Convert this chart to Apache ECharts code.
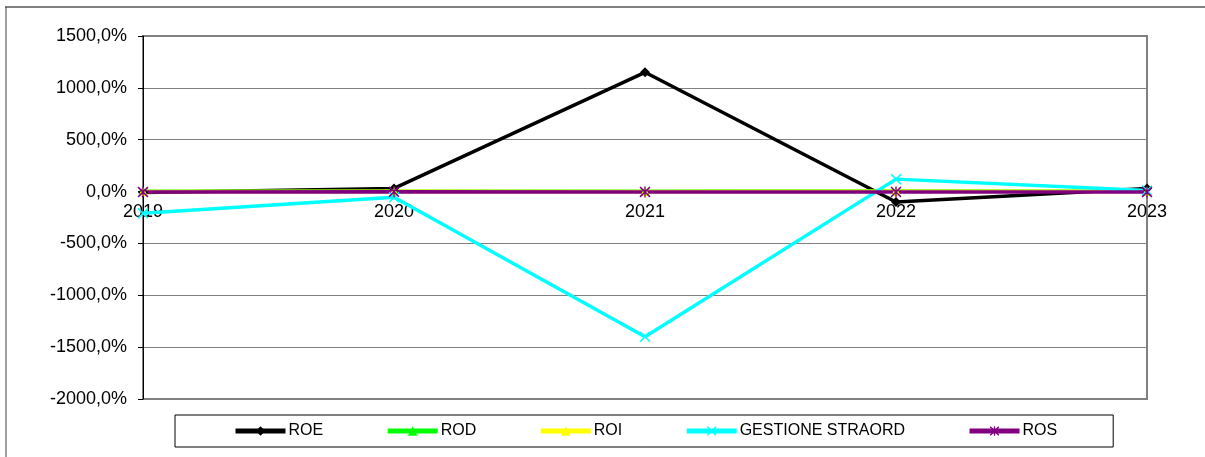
<!DOCTYPE html>
<html>
<head>
<meta charset="utf-8">
<script src="https://cdn.jsdelivr.net/npm/echarts@6/dist/echarts.min.js"></script>
<style>html,body{margin:0;padding:0;background:#fff;}#c{width:1205px;height:457px;}</style>
</head>
<body>
<div id="c"></div>
<script>
const years = ['2019', '2020', '2021', '2022', '2023'];
const roe = [-10, 30, 1150, -100, 30];
const rod = [2, 3, 2, 5, 3];
const roi = [1, 2, 1, 3, 2];
const gestioneStraord = [-210, -55, -1400, 120, 10];
const ros = [-5, -2, -3, -4, -5];
const yTicks = { min: -2000, max: 1500, interval: 500 };

const FONT = 'Liberation Sans, Arial, sans-serif';
const xSym = 'path://M0,1L1,0L5,4L9,0L10,1L6,5L10,9L9,10L5,6L1,10L0,9L4,5Z';
const astSym = 'path://M0,1L1,0L5,4L9,0L10,1L6,5L10,9L9,10L5,6L1,10L0,9L4,5ZM4.4,0L5.6,0L5.6,10L4.4,10Z';

const GRID_TOP = 36, GRID_BOTTOM = 58, H = 457;
const plotH = H - GRID_TOP - GRID_BOTTOM;
const zeroOffset = -plotH * (0 - yTicks.min) / (yTicks.max - yTicks.min);

function mk(name, data, color, symbol, size) {
  return {
    name, type: 'line', data,
    symbol, symbolSize: size,
    lineStyle: { color, width: 3.5 },
    itemStyle: { color },
    emphasis: { disabled: true },
    animation: false
  };
}

const chart = echarts.init(document.getElementById('c'), null, { renderer: 'canvas' });
chart.setOption({
  animation: false,
  textStyle: { fontFamily: FONT },
  graphic: [
    { type: 'line', shape: { x1: 5, y1: 7, x2: 1205, y2: 7 }, style: { stroke: '#808080', lineWidth: 2 } },
    { type: 'line', shape: { x1: 6, y1: 7, x2: 6, y2: 457 }, style: { stroke: '#404040', lineWidth: 1 } }
  ],
  grid: {
    left: 143, right: 58, top: GRID_TOP, bottom: GRID_BOTTOM,
    show: true, borderColor: '#808080', borderWidth: 2, backgroundColor: 'transparent'
  },
  legend: {
    left: 175, top: 415,
    padding: [8, 56, 8, 58],
    borderColor: '#000', borderWidth: 1,
    itemWidth: 50, itemHeight: 12, itemGap: 62,
    lineStyle: { width: 5 },
    textStyle: { fontFamily: FONT, fontSize: 16, color: '#000', padding: [0, 0, 0, -2] },
    data: ['ROE', 'ROD', 'ROI', 'GESTIONE STRAORD', 'ROS']
  },
  xAxis: {
    type: 'category', data: years, boundaryGap: false,
    position: 'bottom', offset: zeroOffset,
    axisLine: { show: false, onZero: false },
    axisTick: { show: false },
    axisLabel: { color: '#000', fontSize: 18, fontFamily: FONT, margin: 11 },
    splitLine: { show: false }
  },
  yAxis: {
    type: 'value', min: yTicks.min, max: yTicks.max, interval: yTicks.interval,
    axisLine: { show: true, lineStyle: { color: '#000', width: 1 } },
    axisTick: { show: true, length: 5, lineStyle: { color: '#000' } },
    axisLabel: {
      color: '#000', fontSize: 18, fontFamily: FONT, margin: 16,
      formatter: v => v.toFixed(1).replace('.', ',') + '%'
    },
    splitLine: { show: true, lineStyle: { color: '#808080', width: 1 } }
  },
  series: [
    mk('ROE', roe, '#000000', 'diamond', 10),
    mk('ROD', rod, '#00ff00', 'triangle', 9),
    mk('ROI', roi, '#ffff00', 'triangle', 9),
    mk('GESTIONE STRAORD', gestioneStraord, '#00ffff', xSym, 11),
    mk('ROS', ros, '#800080', astSym, 11)
  ]
});
</script>
</body>
</html>
